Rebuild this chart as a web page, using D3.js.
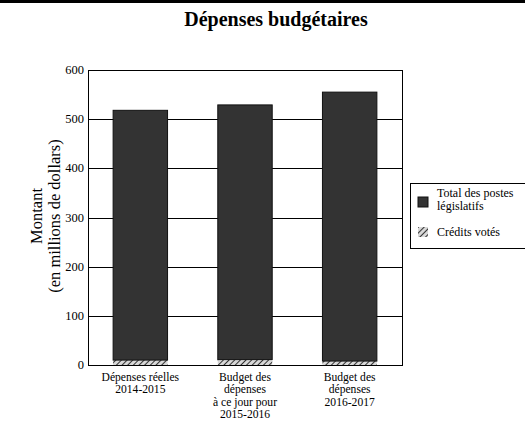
<!DOCTYPE html>
<html><head><meta charset="utf-8">
<script src="https://cdn.jsdelivr.net/npm/d3@7"></script>
<style>body{margin:0;background:#fff}svg{display:block;font-family:"Liberation Serif","Times New Roman",serif}</style>
</head><body>
<script>
// Budget data (millions of dollars)
const categories = [
  ["Dépenses réelles", "2014-2015"],
  ["Budget des", "dépenses", "à ce jour pour", "2015-2016"],
  ["Budget des", "dépenses", "2016-2017"]
];
const creditsVotes = [10, 11, 8];
const postesLegislatifs = [508, 518, 547];
const yTicks = [0, 100, 200, 300, 400, 500, 600];
const seriesNames = ["Total des postes législatifs", "Crédits votés"];

const W = 525, H = 423;
const m = {left: 88, right: 402, top: 70, bottom: 365};
const svg = d3.select("body").append("svg").attr("width", W).attr("height", H);

const defs = svg.append("defs");
const pat = defs.append("pattern").attr("id", "hatch").attr("patternUnits", "userSpaceOnUse")
  .attr("width", 4).attr("height", 4).attr("patternTransform", "rotate(45)");
pat.append("rect").attr("width", 4).attr("height", 4).attr("fill", "#d8d8d8");
pat.append("line").attr("x1", 0).attr("y1", 0).attr("x2", 0).attr("y2", 4)
  .attr("stroke", "#333").attr("stroke-width", 2);

// top rule
svg.append("rect").attr("x", 0).attr("y", 0).attr("width", W).attr("height", 3).attr("fill", "#000");

svg.append("text").attr("x", 276).attr("y", 26).attr("text-anchor", "middle")
  .attr("font-size", 20).attr("font-weight", "bold").text("Dépenses budgétaires");

const x = d3.scaleBand().domain(d3.range(categories.length)).range([m.left, m.right]).paddingInner(0.48).paddingOuter(0.24);
const y = d3.scaleLinear().domain([0, 600]).range([m.bottom, m.top]);

// gridlines
svg.append("g").selectAll("line").data(yTicks).join("line")
  .attr("x1", m.left).attr("x2", m.right)
  .attr("y1", d => Math.round(y(d)) + 0.5).attr("y2", d => Math.round(y(d)) + 0.5)
  .attr("stroke", "#000").attr("stroke-width", 1);

// y tick labels
svg.append("g").selectAll("text").data(yTicks).join("text")
  .attr("x", 84).attr("y", d => y(d) + 4).attr("text-anchor", "end")
  .attr("font-size", 12.5).text(d => d);

// stacked bars
const rows = categories.map((c, i) => ({i, credits: creditsVotes[i], leg: postesLegislatifs[i]}));
const stack = d3.stack().keys(["credits", "leg"])(rows);
const fills = {credits: "url(#hatch)", leg: "#333"};
stack.forEach(layer => {
  svg.append("g").selectAll("rect").data(layer).join("rect")
    .attr("x", d => x(d.data.i)).attr("width", x.bandwidth())
    .attr("y", d => y(d[1])).attr("height", d => y(d[0]) - y(d[1]))
    .attr("fill", fills[layer.key])
    .attr("stroke", layer.key === "leg" ? "#111" : "none").attr("stroke-width", 1);
});

// plot frame
svg.append("rect").attr("x", m.left + 0.5).attr("y", m.top + 0.5)
  .attr("width", m.right - m.left).attr("height", m.bottom - m.top)
  .attr("fill", "none").attr("stroke", "#000").attr("stroke-width", 1);

// category labels
categories.forEach((lines, i) => {
  const t = svg.append("text").attr("text-anchor", "middle").attr("font-size", 11.6);
  lines.forEach((s, k) => t.append("tspan").attr("x", x(i) + x.bandwidth() / 2).attr("y", 381 + k * 12.3).text(s));
});

// axis title
const yt = svg.append("text").attr("transform", "translate(0,216) rotate(-90)").attr("text-anchor", "middle").attr("font-size", 16.5);
yt.append("tspan").attr("x", 0).attr("y", 42).text("Montant");
yt.append("tspan").attr("x", 0).attr("y", 60).text("(en millions de dollars)");

// legend
const lg = svg.append("g");
lg.append("rect").attr("x", 410.5).attr("y", 183.5).attr("width", 120).attr("height", 65)
  .attr("fill", "#fff").attr("stroke", "#000");
lg.append("rect").attr("x", 418).attr("y", 197).attr("width", 10).attr("height", 10).attr("fill", "#333").attr("stroke", "#111");
const lt = lg.append("text").attr("font-size", 12);
lt.append("tspan").attr("x", 437).attr("y", 197).text("Total des postes");
lt.append("tspan").attr("x", 437).attr("y", 210).text("législatifs");
lg.append("rect").attr("x", 418).attr("y", 227).attr("width", 10).attr("height", 10).attr("fill", "url(#hatch)");
lg.append("text").attr("font-size", 12).attr("x", 437).attr("y", 236).text(seriesNames[1]);
</script>
</body></html>
